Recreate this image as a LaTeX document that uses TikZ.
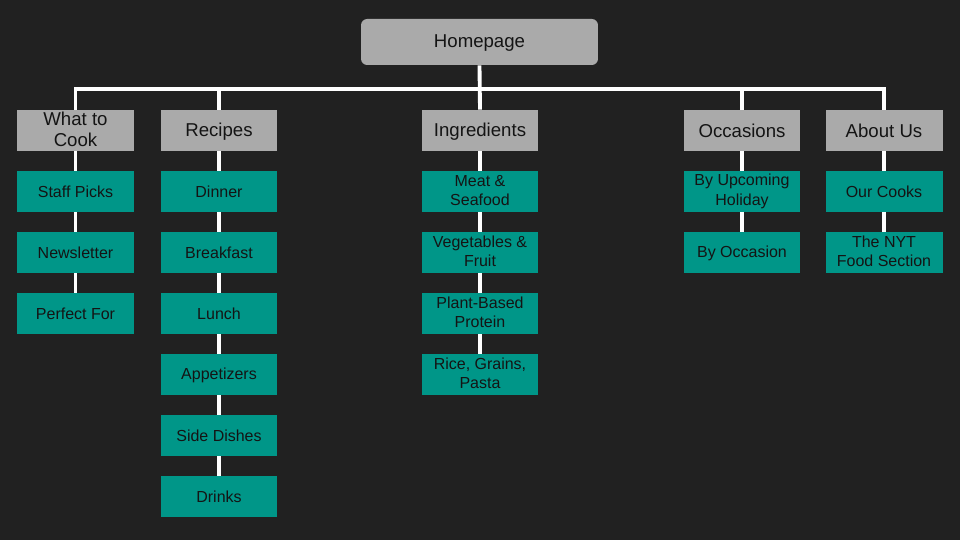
\documentclass[tikz,border=0pt]{standalone}
\usepackage{fontspec}
\setmainfont{Liberation Sans}
\usepackage{xcolor}
\usetikzlibrary{shapes}
\definecolor{bgdark}{RGB}{33,33,33}
\definecolor{boxgray}{RGB}{170,170,170}
\definecolor{boxteal}{RGB}{0,150,136}
\definecolor{txtdark}{RGB}{20,20,20}
\newcommand{\capstrut}{\rule[-0.13em]{0pt}{0.97em}}
\tikzstyle{home} = [rectangle, rounded corners=3.5pt, minimum width=4.74cm, minimum height=0.92cm, text centered, fill=boxgray, text=txtdark, font=\fontsize{10.6}{12.4}\selectfont, execute at begin node=\capstrut]
\tikzstyle{section} = [rectangle, minimum width=2.34cm, minimum height=0.82cm, inner xsep=0.5pt, inner ysep=0pt, align=center, fill=boxgray, text=txtdark, font=\fontsize{10.6}{12.4}\selectfont, execute at begin node=\capstrut, execute at end node=\capstrut]
\tikzstyle{page} = [rectangle, minimum width=2.34cm, minimum height=0.82cm, inner xsep=0.5pt, inner ysep=0pt, align=center, fill=boxteal, text=txtdark, font=\fontsize{9.1}{11}\selectfont, execute at begin node=\capstrut, execute at end node=\capstrut]
\tikzstyle{link} = [white, line width=2.2pt]

\begin{document}
\begin{tikzpicture}[x=0.02cm, y=-0.02cm]

\fill [bgdark] (0, 0) rectangle (960, 540);

\node at (479.5, 42) (home) [home] {Homepage};

\node at (75.5, 130.5) (cook) [section] {What to\\Cook};
\node at (219, 130.5) (recipes) [section] {Recipes};
\node at (480, 130.5) (ingredients) [section] {Ingredients};
\node at (742, 130.5) (occasions) [section] {Occasions};
\node at (884, 130.5) (about) [section] {About Us};

\node at (75.5, 191.5) (staff) [page] {Staff Picks};
\node at (75.5, 252.5) (news) [page] {Newsletter};
\node at (75.5, 313.5) (perfect) [page] {Perfect For};

\node at (219, 191.5) (dinner) [page] {Dinner};
\node at (219, 252.5) (breakfast) [page] {Breakfast};
\node at (219, 313.5) (lunch) [page] {Lunch};
\node at (219, 374.5) (appetizers) [page] {Appetizers};
\node at (219, 435.5) (sides) [page] {Side Dishes};
\node at (219, 496.5) (drinks) [page] {Drinks};

\node at (480, 191.5) (meat) [page] {Meat \&\\Seafood};
\node at (480, 252.5) (veg) [page] {Vegetables \&\\Fruit};
\node at (480, 313.5) (plant) [page] {Plant-Based\\Protein};
\node at (480, 374.5) (rice) [page] {Rice, Grains,\\Pasta};

\node at (742, 191.5) (holiday) [page] {By Upcoming\\Holiday};
\node at (742, 252.5) (occasion) [page] {By Occasion};

\node at (884, 191.5) (cooks) [page] {Our Cooks};
\node at (884, 252.5) (nyt) [page] {The NYT\\Food Section};

\coordinate (barleft) at (75.5, 89);
\coordinate (barright) at (884, 89);

% top bar
\draw [link] (cook.north) -- (barleft) -- (barright) -- (about.north);
\draw [link] (recipes.north) -- (recipes.north |- barleft);
\draw [link] (occasions.north) -- (occasions.north |- barleft);
\draw [link] (home.south) -- (ingredients.north);

% columns
\draw [link] (cook) -- (staff) -- (news) -- (perfect);
\draw [link] (recipes) -- (dinner) -- (breakfast) -- (lunch) -- (appetizers) -- (sides) -- (drinks);
\draw [link] (ingredients) -- (meat) -- (veg) -- (plant) -- (rice);
\draw [link] (occasions) -- (holiday) -- (occasion);
\draw [link] (about) -- (cooks) -- (nyt);

\end{tikzpicture}
\end{document}
